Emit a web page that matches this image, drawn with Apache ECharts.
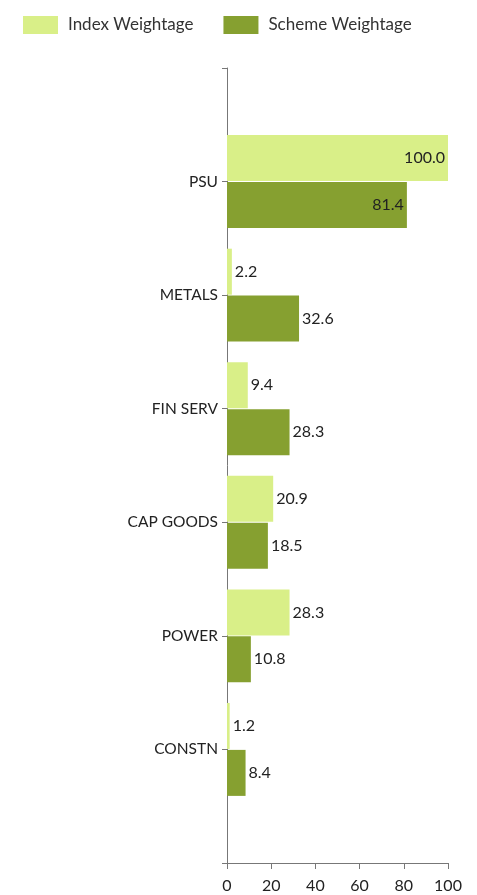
<!DOCTYPE html>
<html><head><meta charset="utf-8">
<script src="https://cdn.jsdelivr.net/npm/echarts@6/dist/echarts.min.js"></script>
<style>html,body{margin:0;padding:0;background:#fff}#c{width:477px;height:895px}</style>
</head><body><div id="c"></div>
<script>
const categories = ['PSU', 'METALS', 'FIN SERV', 'CAP GOODS', 'POWER', 'CONSTN'];
const indexWeightage = [100.0, 2.2, 9.4, 20.9, 28.3, 1.2];
const schemeWeightage = [81.4, 32.6, 28.3, 18.5, 10.8, 8.4];
const xTicks = [0, 20, 40, 60, 80, 100];

const font = 'Lato, "Open Sans", sans-serif';
const yData = [''].concat(categories).concat(['']);
function items(vals) {
  return [null].concat(vals.map(v => ({
    value: v,
    label: { position: v > 50 ? 'insideRight' : 'right' }
  }))).concat([null]);
}
const chart = echarts.init(document.getElementById('c'), null, { renderer: 'canvas' });
chart.setOption({
  animation: false,
  textStyle: { fontFamily: font },
  legend: {
    left: 18, top: 11, itemWidth: 35, itemHeight: 18, itemGap: 30,
    icon: 'rect',
    textStyle: { fontFamily: font, fontSize: 17, color: '#333', padding: [0, 0, 0, 5] },
    data: ['Index Weightage', 'Scheme Weightage']
  },
  grid: { left: 227, right: 29, top: 68, bottom: 32 },
  xAxis: {
    type: 'value', min: 0, max: 100, interval: 20,
    axisLine: { show: true, lineStyle: { color: '#777', width: 1 } },
    axisTick: { show: true, length: 6, lineStyle: { color: '#777' } },
    splitLine: { show: false },
    axisLabel: { fontFamily: font, fontSize: 16, color: '#222', margin: 15,
      formatter: v => xTicks.includes(v) ? String(v) : '' }
  },
  yAxis: {
    type: 'category', data: yData, inverse: true, boundaryGap: false,
    axisLine: { show: true, lineStyle: { color: '#777', width: 1 } },
    axisTick: { show: true, length: 5, lineStyle: { color: '#777' } },
    axisLabel: { fontFamily: font, fontSize: 15.5, color: '#222', margin: 9 }
  },
  series: [
    {
      name: 'Index Weightage', type: 'bar', data: items(indexWeightage),
      barWidth: 46, barGap: '2%',
      itemStyle: { color: '#d9ef88' },
      label: { show: true, fontFamily: font, fontSize: 16, color: '#222', distance: 3,
        formatter: p => p.value.toFixed(1) }
    },
    {
      name: 'Scheme Weightage', type: 'bar', data: items(schemeWeightage),
      barWidth: 46,
      itemStyle: { color: '#86a030' },
      label: { show: true, fontFamily: font, fontSize: 16, color: '#222', distance: 3,
        formatter: p => p.value.toFixed(1) }
    }
  ]
});
</script></body></html>
